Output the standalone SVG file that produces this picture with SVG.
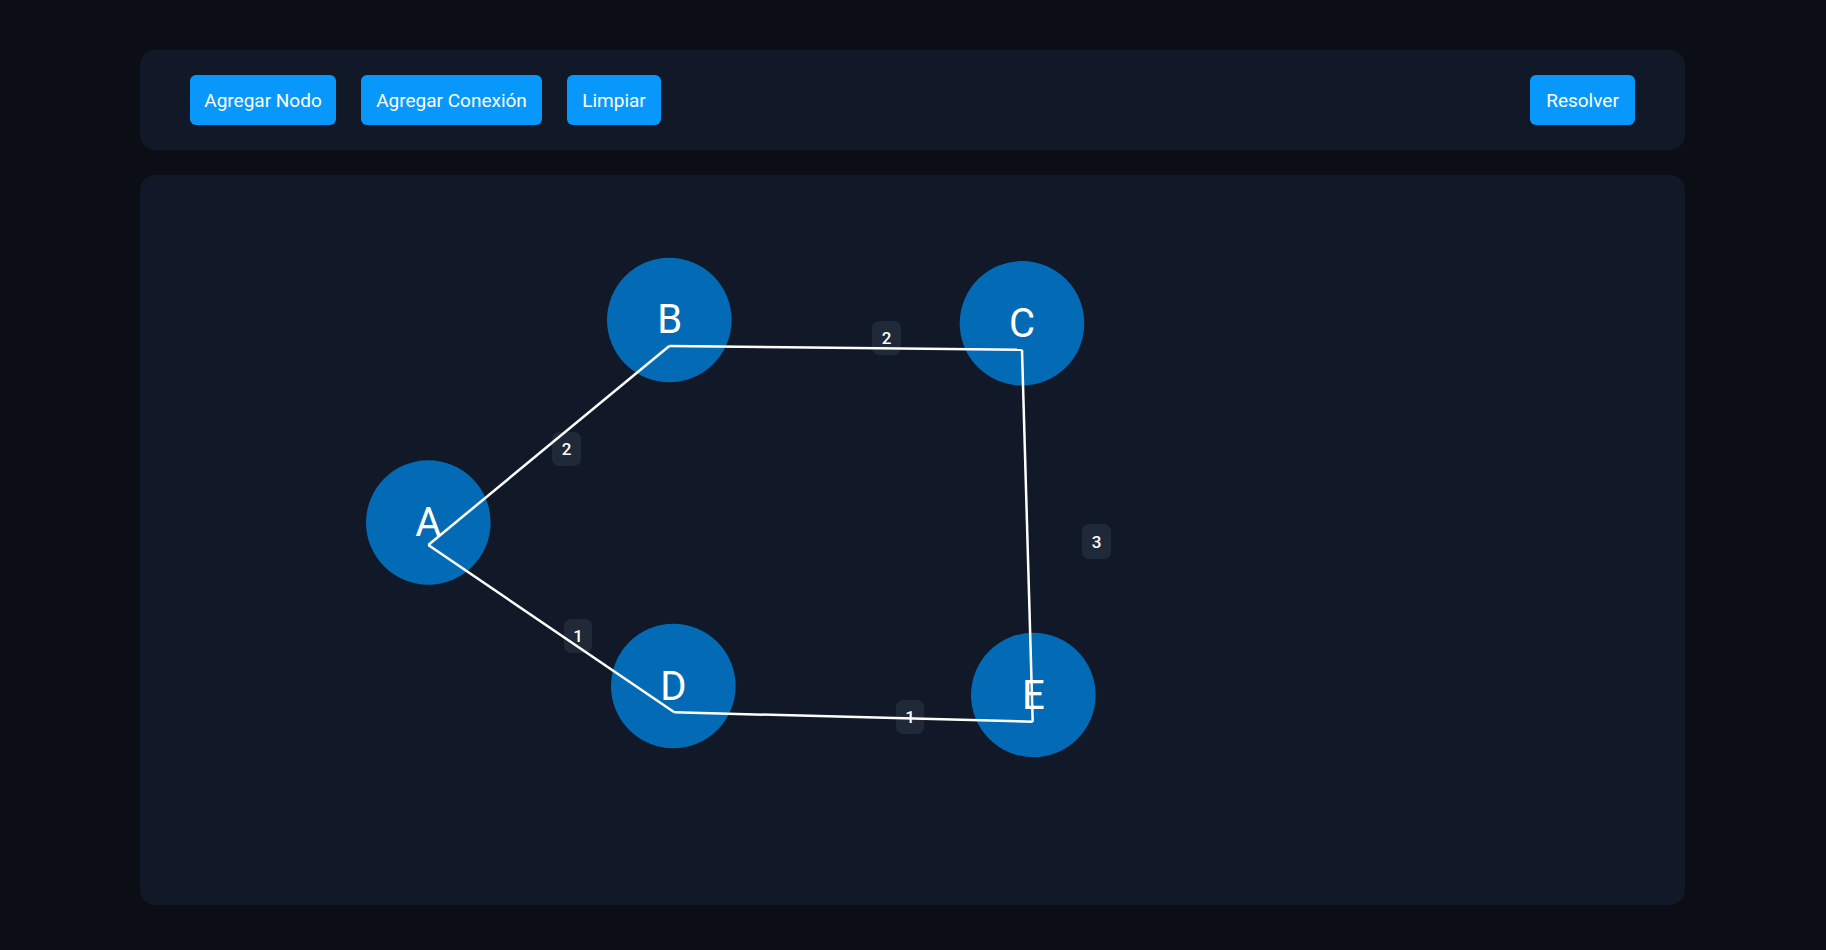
<svg xmlns="http://www.w3.org/2000/svg" width="1826" height="950" viewBox="0 0 1826 950">
<style>
.panel{fill:#111827}
.btn rect{fill:#0898fb}
.btn text{fill:#ffffff;font-family:Roboto,"Liberation Sans",sans-serif;font-size:19px;text-anchor:middle}
.node circle{fill:#036bb5}
.node text{fill:#ffffff;font-family:Roboto,"Liberation Sans",sans-serif;font-size:40px;text-anchor:middle}
.lbl rect{fill:#1f2937}
.lbl text{fill:#ffffff;font-family:Roboto,"Liberation Sans",sans-serif;font-size:17px;font-weight:500;text-anchor:middle}
.edge{stroke:#ffffff;stroke-width:2.5;fill:none}
</style>
<rect width="1826" height="950" fill="#0c0e15"/>
<rect class="panel" x="140" y="50" width="1545" height="100" rx="15"/>
<rect class="panel" x="140" y="175" width="1545" height="730" rx="15"/>
<g id="btn-agregar-nodo" class="btn"><rect x="190" y="75" width="146" height="50" rx="6"/><text x="263" y="107">Agregar Nodo</text></g>
<g id="btn-agregar-conexion" class="btn"><rect x="361" y="75" width="181" height="50" rx="6"/><text x="451.5" y="107">Agregar Conexión</text></g>
<g id="btn-limpiar" class="btn"><rect x="567" y="75" width="94" height="50" rx="6"/><text x="614" y="107">Limpiar</text></g>
<g id="btn-resolver" class="btn"><rect x="1530" y="75" width="105" height="50" rx="6"/><text x="1582.5" y="107">Resolver</text></g>
<g id="labels">
<g id="label-AB" class="lbl"><rect x="552" y="432" width="29" height="34" rx="7"/><text x="566.5" y="455">2</text></g>
<g id="label-BC" class="lbl"><rect x="872" y="321" width="29" height="34" rx="7"/><text x="886.5" y="344">2</text></g>
<g id="label-CE" class="lbl"><rect x="1082" y="524" width="29" height="35" rx="7"/><text x="1096.5" y="547.5">3</text></g>
<g id="label-AD" class="lbl"><rect x="564" y="619" width="28" height="34" rx="7"/><text x="578" y="642">1</text></g>
<g id="label-DE" class="lbl"><rect x="896" y="700" width="28" height="34" rx="7"/><text x="910" y="723">1</text></g>
</g>
<g id="node-A" class="node"><circle cx="428.3" cy="522.5" r="62.3"/><text x="428.3" y="536">A</text></g>
<g id="node-B" class="node"><circle cx="669.3" cy="320" r="62.3"/><text x="669.8" y="333">B</text></g>
<g id="node-C" class="node"><circle cx="1022" cy="323.3" r="62.3"/><text x="1022" y="336.5">C</text></g>
<g id="node-D" class="node"><circle cx="673.3" cy="686" r="62.3"/><text x="673.3" y="699.5">D</text></g>
<g id="node-E" class="node"><circle cx="1033.3" cy="695" r="62.3"/><text x="1033.3" y="708.5">E</text></g>
<g id="connectors">
<line class="edge" x1="428.3" y1="545" x2="669.3" y2="346"/>
<line class="edge" x1="428.3" y1="545" x2="674.3" y2="712.3"/>
<line class="edge" x1="669.3" y1="346" x2="1022" y2="349.7"/>
<line class="edge" x1="1022" y1="349.7" x2="1032.7" y2="721.7"/>
<line class="edge" x1="674.3" y1="712.3" x2="1032.7" y2="721.7"/>
</g>
</svg>
